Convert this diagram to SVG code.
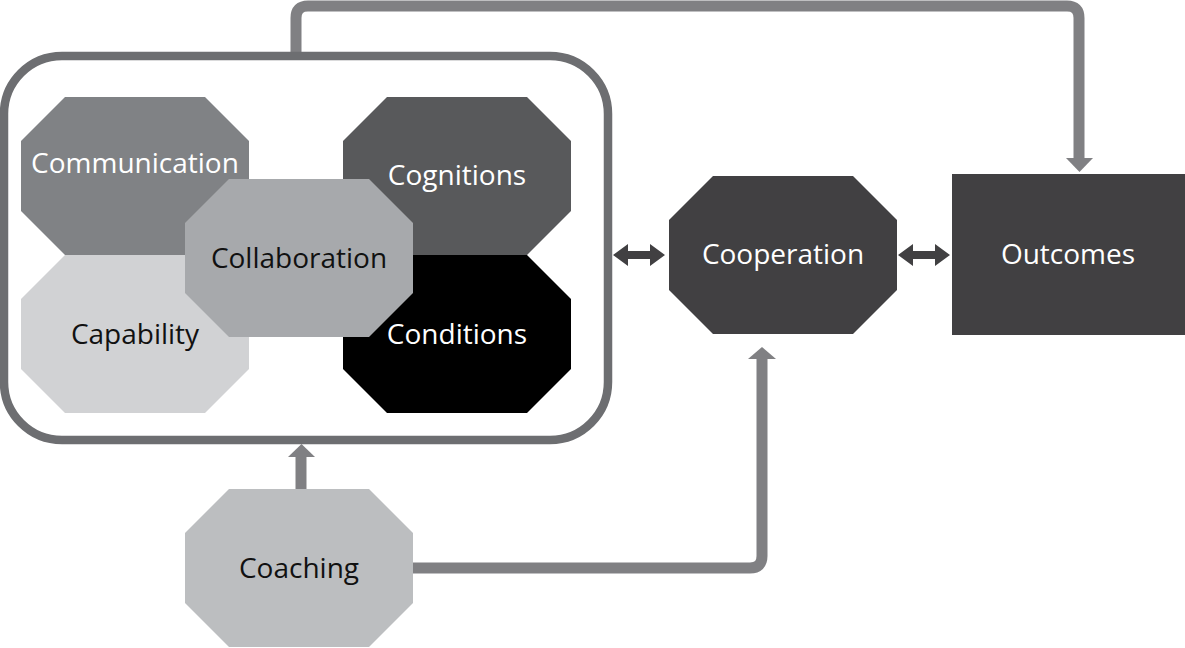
<svg xmlns="http://www.w3.org/2000/svg" width="1185" height="648" viewBox="0 0 1185 648">
<style>
text{font-family:"Open Sans","Noto Sans","Liberation Sans",sans-serif;font-size:28px;text-anchor:middle}
.w{fill:#ffffff}
.b{fill:#111111}
.conn{fill:none;stroke:#808083;stroke-width:11}
.dbl{fill:#414042}
</style>
<defs>
<polygon id="oct" points="44,0 184,0 228,44 228,114 184,158 44,158 0,114 0,44"/>
</defs>
<g id="connectors">
<path class="conn" d="M296,56 V18 Q296,6 308,6 H1067 Q1079,6 1079,18 V160"/>
<polygon points="1066,158 1093,158 1079.5,172" fill="#808083"/>
<path class="conn" d="M301,489 V456"/>
<polygon points="288,457 315,457 301.5,444" fill="#808083"/>
<path class="conn" d="M413,568 H750 Q762,568 762,556 V358"/>
<polygon points="748,359 776,359 762,347" fill="#808083"/>
<polygon class="dbl" points="613,255 628,244 628,251 650,251 650,244 665,255 650,266 650,259 628,259 628,266"/>
<polygon class="dbl" points="898,255 913,244 913,251 935,251 935,244 950,255 935,266 935,259 913,259 913,266"/>
</g>
<g id="container">
<rect x="4" y="56" width="604" height="384" rx="58" fill="#ffffff" stroke="#6d6e71" stroke-width="8.5"/>
</g>
<g id="communication">
<use href="#oct" x="21" y="97" fill="#808285"/>
<text class="w" x="135" y="173">Communication</text>
</g>
<g id="capability">
<use href="#oct" x="21" y="255" fill="#d1d2d4"/>
<text class="b" x="135" y="344">Capability</text>
</g>
<g id="cognitions">
<use href="#oct" x="343" y="97" fill="#58595b"/>
<text class="w" x="457" y="185">Cognitions</text>
</g>
<g id="conditions">
<use href="#oct" x="343" y="255" fill="#000000"/>
<text class="w" x="457" y="344">Conditions</text>
</g>
<g id="collaboration">
<use href="#oct" x="185" y="179" fill="#a7a9ac"/>
<text class="b" x="299" y="268">Collaboration</text>
</g>
<g id="cooperation">
<use href="#oct" x="669" y="176" fill="#414042"/>
<text class="w" x="783" y="264">Cooperation</text>
</g>
<g id="outcomes">
<rect x="952" y="174" width="233" height="161" fill="#414042"/>
<text class="w" x="1068" y="264">Outcomes</text>
</g>
<g id="coaching">
<use href="#oct" x="185" y="489" fill="#bcbec0"/>
<text class="b" x="299" y="578">Coaching</text>
</g>
</svg>
